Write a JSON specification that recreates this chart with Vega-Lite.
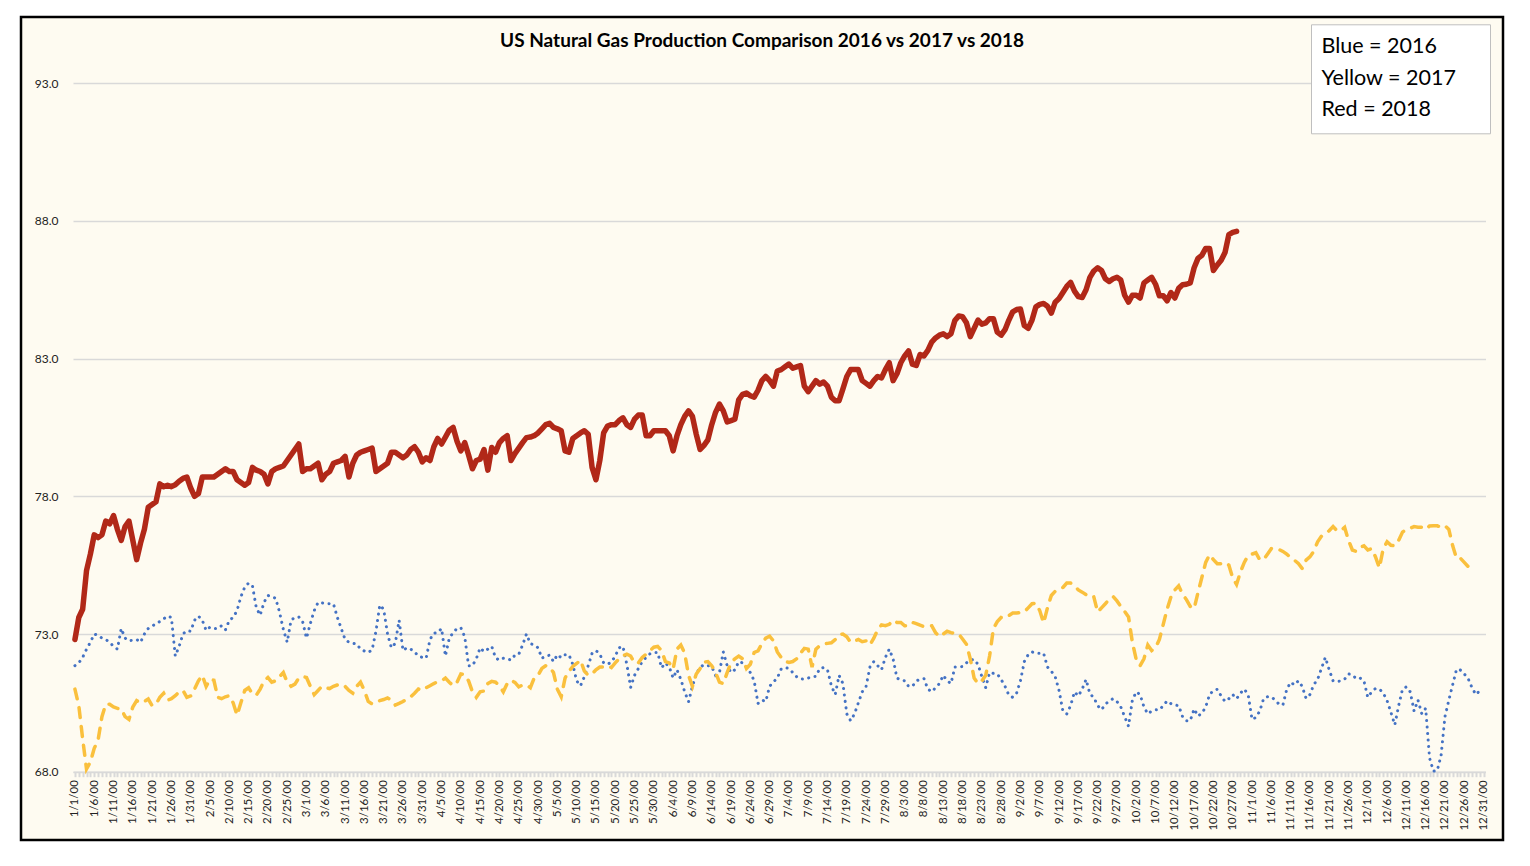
{
"$schema":"https://vega.github.io/schema/vega-lite/v6.json",
"width":1482,"height":823,
"autosize":{"type":"none"},
"padding":{"left":21,"top":17,"right":27,"bottom":26},
"background":"#FFFFFF",
"config":{"view":{"fill":"#FEFBF1","stroke":"#000000","strokeWidth":2.5},"font":"Lato"},
"title":{"text":"US Natural Gas Production Comparison 2016 vs 2017 vs 2018","font":"Lato","fontSize":19,"fontWeight":"bold","color":"#000000","anchor":"middle","frame":"group","baseline":"alphabetic","offset":-49},
"data":{"values":[
{"d":"2000-01-01","b":71.85,"y":71.0,"r":72.8},
{"d":"2000-01-02","b":71.95,"y":70.4,"r":73.6},
{"d":"2000-01-03","b":72.15,"y":69.2,"r":73.9},
{"d":"2000-01-04","b":72.45,"y":68.1,"r":75.3},
{"d":"2000-01-05","b":72.7,"y":68.35,"r":75.9},
{"d":"2000-01-06","b":73.0,"y":68.85,"r":76.6},
{"d":"2000-01-07","b":72.95,"y":69.15,"r":76.5},
{"d":"2000-01-08","b":72.85,"y":70.0,"r":76.6},
{"d":"2000-01-09","b":72.8,"y":70.45,"r":77.1},
{"d":"2000-01-10","b":72.7,"y":70.45,"r":77.0},
{"d":"2000-01-11","b":72.55,"y":70.35,"r":77.3},
{"d":"2000-01-12","b":72.45,"y":70.3,"r":76.8},
{"d":"2000-01-13","b":73.2,"y":70.28,"r":76.4},
{"d":"2000-01-14","b":72.85,"y":70.0,"r":76.9},
{"d":"2000-01-15","b":72.75,"y":69.9,"r":77.1},
{"d":"2000-01-16","b":72.78,"y":70.35,"r":76.4},
{"d":"2000-01-17","b":72.8,"y":70.58,"r":75.7},
{"d":"2000-01-18","b":72.7,"y":70.5,"r":76.3},
{"d":"2000-01-19","b":73.0,"y":70.55,"r":76.8},
{"d":"2000-01-20","b":73.2,"y":70.64,"r":77.6},
{"d":"2000-01-21","b":73.28,"y":70.4,"r":77.7},
{"d":"2000-01-22","b":73.38,"y":70.45,"r":77.8},
{"d":"2000-01-23","b":73.45,"y":70.7,"r":78.45},
{"d":"2000-01-24","b":73.55,"y":70.85,"r":78.35},
{"d":"2000-01-25","b":73.65,"y":70.6,"r":78.4},
{"d":"2000-01-26","b":73.6,"y":70.65,"r":78.35},
{"d":"2000-01-27","b":72.2,"y":70.76,"r":78.42},
{"d":"2000-01-28","b":72.55,"y":70.9,"r":78.55},
{"d":"2000-01-29","b":73.0,"y":70.95,"r":78.65},
{"d":"2000-01-30","b":73.12,"y":70.7,"r":78.7},
{"d":"2000-01-31","b":73.1,"y":70.75,"r":78.3},
{"d":"2000-02-01","b":73.5,"y":71.0,"r":78.0},
{"d":"2000-02-02","b":73.65,"y":71.3,"r":78.1},
{"d":"2000-02-03","b":73.5,"y":71.5,"r":78.7},
{"d":"2000-02-04","b":73.13,"y":71.1,"r":78.7},
{"d":"2000-02-05","b":73.25,"y":71.36,"r":78.7},
{"d":"2000-02-06","b":73.2,"y":71.32,"r":78.7},
{"d":"2000-02-07","b":73.2,"y":70.7,"r":78.8},
{"d":"2000-02-08","b":73.3,"y":70.65,"r":78.9},
{"d":"2000-02-09","b":73.15,"y":70.72,"r":79.0},
{"d":"2000-02-10","b":73.5,"y":70.76,"r":78.9},
{"d":"2000-02-11","b":73.6,"y":70.5,"r":78.9},
{"d":"2000-02-12","b":73.85,"y":70.05,"r":78.6},
{"d":"2000-02-13","b":74.35,"y":70.5,"r":78.5},
{"d":"2000-02-14","b":74.7,"y":70.95,"r":78.4},
{"d":"2000-02-15","b":74.85,"y":71.05,"r":78.5},
{"d":"2000-02-16","b":74.75,"y":70.82,"r":79.05},
{"d":"2000-02-17","b":73.95,"y":70.78,"r":78.95},
{"d":"2000-02-18","b":73.68,"y":71.0,"r":78.9},
{"d":"2000-02-19","b":74.15,"y":71.3,"r":78.8},
{"d":"2000-02-20","b":74.4,"y":71.42,"r":78.45},
{"d":"2000-02-21","b":74.35,"y":71.25,"r":78.9},
{"d":"2000-02-22","b":74.3,"y":71.3,"r":79.0},
{"d":"2000-02-23","b":73.8,"y":71.45,"r":79.05},
{"d":"2000-02-24","b":73.17,"y":71.6,"r":79.1},
{"d":"2000-02-25","b":72.7,"y":71.25,"r":79.3},
{"d":"2000-02-26","b":73.5,"y":71.1,"r":79.5},
{"d":"2000-02-27","b":73.6,"y":71.18,"r":79.7},
{"d":"2000-02-28","b":73.62,"y":71.4,"r":79.9},
{"d":"2000-02-29","b":73.45,"y":71.46,"r":78.9},
{"d":"2000-03-01","b":72.85,"y":71.42,"r":79.0},
{"d":"2000-03-02","b":73.38,"y":71.1,"r":79.0},
{"d":"2000-03-03","b":73.85,"y":70.8,"r":79.1},
{"d":"2000-03-04","b":74.15,"y":70.95,"r":79.2},
{"d":"2000-03-05","b":74.13,"y":71.1,"r":78.6},
{"d":"2000-03-06","b":74.11,"y":71.05,"r":78.8},
{"d":"2000-03-07","b":74.1,"y":71.02,"r":78.9},
{"d":"2000-03-08","b":74.09,"y":71.1,"r":79.2},
{"d":"2000-03-09","b":73.6,"y":71.15,"r":79.25},
{"d":"2000-03-10","b":73.2,"y":71.18,"r":79.3},
{"d":"2000-03-11","b":72.8,"y":71.1,"r":79.45},
{"d":"2000-03-12","b":72.7,"y":70.95,"r":78.7},
{"d":"2000-03-13","b":72.66,"y":70.85,"r":79.2},
{"d":"2000-03-14","b":72.64,"y":71.1,"r":79.5},
{"d":"2000-03-15","b":72.45,"y":71.25,"r":79.6},
{"d":"2000-03-16","b":72.38,"y":70.95,"r":79.65},
{"d":"2000-03-17","b":72.33,"y":70.55,"r":79.7},
{"d":"2000-03-18","b":72.42,"y":70.46,"r":79.75},
{"d":"2000-03-19","b":73.1,"y":70.52,"r":78.9},
{"d":"2000-03-20","b":74.05,"y":70.58,"r":79.0},
{"d":"2000-03-21","b":73.9,"y":70.62,"r":79.1},
{"d":"2000-03-22","b":73.0,"y":70.68,"r":79.2},
{"d":"2000-03-23","b":72.5,"y":70.6,"r":79.6},
{"d":"2000-03-24","b":72.66,"y":70.42,"r":79.6},
{"d":"2000-03-25","b":73.5,"y":70.48,"r":79.5},
{"d":"2000-03-26","b":72.4,"y":70.55,"r":79.4},
{"d":"2000-03-27","b":72.5,"y":70.64,"r":79.5},
{"d":"2000-03-28","b":72.45,"y":70.72,"r":79.7},
{"d":"2000-03-29","b":72.35,"y":70.85,"r":79.8},
{"d":"2000-03-30","b":72.2,"y":71.0,"r":79.6},
{"d":"2000-03-31","b":72.15,"y":70.95,"r":79.25},
{"d":"2000-04-01","b":72.12,"y":71.05,"r":79.4},
{"d":"2000-04-02","b":72.8,"y":71.12,"r":79.3},
{"d":"2000-04-03","b":73.03,"y":71.2,"r":79.8},
{"d":"2000-04-04","b":73.05,"y":71.27,"r":80.1},
{"d":"2000-04-05","b":73.2,"y":71.3,"r":79.9},
{"d":"2000-04-06","b":72.2,"y":71.4,"r":80.15},
{"d":"2000-04-07","b":72.85,"y":71.25,"r":80.4},
{"d":"2000-04-08","b":73.05,"y":71.12,"r":80.5},
{"d":"2000-04-09","b":73.2,"y":71.25,"r":80.0},
{"d":"2000-04-10","b":73.23,"y":71.55,"r":79.65},
{"d":"2000-04-11","b":72.9,"y":71.52,"r":79.95},
{"d":"2000-04-12","b":71.85,"y":71.3,"r":79.5},
{"d":"2000-04-13","b":71.85,"y":70.9,"r":79.0},
{"d":"2000-04-14","b":72.1,"y":70.7,"r":79.3},
{"d":"2000-04-15","b":72.5,"y":70.9,"r":79.35},
{"d":"2000-04-16","b":72.36,"y":70.93,"r":79.7},
{"d":"2000-04-17","b":72.45,"y":71.2,"r":78.95},
{"d":"2000-04-18","b":72.55,"y":71.28,"r":79.77},
{"d":"2000-04-19","b":72.13,"y":71.25,"r":79.6},
{"d":"2000-04-20","b":72.05,"y":71.12,"r":79.95},
{"d":"2000-04-21","b":72.12,"y":70.9,"r":80.1},
{"d":"2000-04-22","b":72.1,"y":71.2,"r":80.2},
{"d":"2000-04-23","b":72.05,"y":71.32,"r":79.3},
{"d":"2000-04-24","b":72.23,"y":71.24,"r":79.55},
{"d":"2000-04-25","b":72.26,"y":71.08,"r":79.75},
{"d":"2000-04-26","b":72.6,"y":71.15,"r":79.95},
{"d":"2000-04-27","b":73.0,"y":71.15,"r":80.13},
{"d":"2000-04-28","b":72.65,"y":71.05,"r":80.15},
{"d":"2000-04-29","b":72.6,"y":71.4,"r":80.2},
{"d":"2000-04-30","b":72.5,"y":71.5,"r":80.3},
{"d":"2000-05-01","b":72.12,"y":71.75,"r":80.45},
{"d":"2000-05-02","b":72.2,"y":71.85,"r":80.6},
{"d":"2000-05-03","b":72.23,"y":71.8,"r":80.65},
{"d":"2000-05-04","b":72.0,"y":71.6,"r":80.5},
{"d":"2000-05-05","b":72.25,"y":71.0,"r":80.45},
{"d":"2000-05-06","b":72.14,"y":70.72,"r":80.38},
{"d":"2000-05-07","b":72.25,"y":71.4,"r":79.65},
{"d":"2000-05-08","b":72.25,"y":71.65,"r":79.6},
{"d":"2000-05-09","b":71.9,"y":71.82,"r":80.1},
{"d":"2000-05-10","b":71.3,"y":71.93,"r":80.2},
{"d":"2000-05-11","b":71.12,"y":72.05,"r":80.3},
{"d":"2000-05-12","b":71.45,"y":71.65,"r":80.38},
{"d":"2000-05-13","b":71.85,"y":71.5,"r":80.25},
{"d":"2000-05-14","b":72.3,"y":71.55,"r":79.05},
{"d":"2000-05-15","b":72.4,"y":71.7,"r":78.6},
{"d":"2000-05-16","b":72.27,"y":71.8,"r":79.3},
{"d":"2000-05-17","b":71.95,"y":71.8,"r":80.3},
{"d":"2000-05-18","b":71.9,"y":71.85,"r":80.55},
{"d":"2000-05-19","b":71.98,"y":71.78,"r":80.6},
{"d":"2000-05-20","b":72.2,"y":71.95,"r":80.6},
{"d":"2000-05-21","b":72.5,"y":72.1,"r":80.75},
{"d":"2000-05-22","b":72.55,"y":72.21,"r":80.85},
{"d":"2000-05-23","b":71.9,"y":72.27,"r":80.6},
{"d":"2000-05-24","b":71.06,"y":72.2,"r":80.5},
{"d":"2000-05-25","b":71.5,"y":71.95,"r":80.8},
{"d":"2000-05-26","b":71.75,"y":71.95,"r":80.95},
{"d":"2000-05-27","b":72.0,"y":72.15,"r":80.95},
{"d":"2000-05-28","b":72.15,"y":72.27,"r":80.2},
{"d":"2000-05-29","b":72.28,"y":72.4,"r":80.2},
{"d":"2000-05-30","b":72.33,"y":72.52,"r":80.38},
{"d":"2000-05-31","b":72.33,"y":72.55,"r":80.38},
{"d":"2000-06-01","b":71.77,"y":72.4,"r":80.38},
{"d":"2000-06-02","b":71.95,"y":72.0,"r":80.38},
{"d":"2000-06-03","b":71.8,"y":71.95,"r":80.2},
{"d":"2000-06-04","b":71.4,"y":71.73,"r":79.65},
{"d":"2000-06-05","b":71.7,"y":72.45,"r":80.2},
{"d":"2000-06-06","b":71.35,"y":72.6,"r":80.6},
{"d":"2000-06-07","b":70.9,"y":72.3,"r":80.9},
{"d":"2000-06-08","b":70.54,"y":71.5,"r":81.1},
{"d":"2000-06-09","b":71.1,"y":71.1,"r":80.9},
{"d":"2000-06-10","b":71.55,"y":71.55,"r":80.25},
{"d":"2000-06-11","b":71.8,"y":71.75,"r":79.7},
{"d":"2000-06-12","b":71.88,"y":71.98,"r":79.85},
{"d":"2000-06-13","b":71.85,"y":72.0,"r":80.05},
{"d":"2000-06-14","b":71.82,"y":71.85,"r":80.6},
{"d":"2000-06-15","b":71.5,"y":71.6,"r":81.05},
{"d":"2000-06-16","b":71.6,"y":71.25,"r":81.35},
{"d":"2000-06-17","b":72.35,"y":71.2,"r":81.1},
{"d":"2000-06-18","b":71.85,"y":71.6,"r":80.7},
{"d":"2000-06-19","b":71.6,"y":71.95,"r":80.75},
{"d":"2000-06-20","b":71.7,"y":72.1,"r":80.8},
{"d":"2000-06-21","b":72.0,"y":72.2,"r":81.5},
{"d":"2000-06-22","b":71.95,"y":72.1,"r":81.7},
{"d":"2000-06-23","b":71.8,"y":71.75,"r":81.75},
{"d":"2000-06-24","b":71.6,"y":71.9,"r":81.65},
{"d":"2000-06-25","b":71.3,"y":72.33,"r":81.6},
{"d":"2000-06-26","b":70.48,"y":72.39,"r":81.85},
{"d":"2000-06-27","b":70.6,"y":72.65,"r":82.2},
{"d":"2000-06-28","b":70.55,"y":72.85,"r":82.35},
{"d":"2000-06-29","b":71.1,"y":72.92,"r":82.2},
{"d":"2000-06-30","b":71.26,"y":72.75,"r":82.0},
{"d":"2000-07-01","b":71.4,"y":72.35,"r":82.55},
{"d":"2000-07-02","b":71.73,"y":72.15,"r":82.6},
{"d":"2000-07-03","b":71.78,"y":72.0,"r":82.7},
{"d":"2000-07-04","b":71.75,"y":71.97,"r":82.8},
{"d":"2000-07-05","b":71.6,"y":72.0,"r":82.65},
{"d":"2000-07-06","b":71.45,"y":72.1,"r":82.7},
{"d":"2000-07-07","b":71.37,"y":72.3,"r":82.75},
{"d":"2000-07-08","b":71.36,"y":72.48,"r":82.0},
{"d":"2000-07-09","b":71.4,"y":72.45,"r":81.8},
{"d":"2000-07-10","b":71.45,"y":71.8,"r":82.0},
{"d":"2000-07-11","b":71.46,"y":72.45,"r":82.2},
{"d":"2000-07-12","b":71.75,"y":72.58,"r":82.07},
{"d":"2000-07-13","b":71.78,"y":72.64,"r":82.15},
{"d":"2000-07-14","b":71.7,"y":72.66,"r":82.0},
{"d":"2000-07-15","b":71.12,"y":72.68,"r":81.6},
{"d":"2000-07-16","b":70.8,"y":72.8,"r":81.47},
{"d":"2000-07-17","b":71.5,"y":72.97,"r":81.47},
{"d":"2000-07-18","b":71.2,"y":73.0,"r":81.9},
{"d":"2000-07-19","b":70.1,"y":72.9,"r":82.35},
{"d":"2000-07-20","b":69.85,"y":72.7,"r":82.6},
{"d":"2000-07-21","b":70.1,"y":72.75,"r":82.6},
{"d":"2000-07-22","b":70.5,"y":72.8,"r":82.6},
{"d":"2000-07-23","b":70.9,"y":72.72,"r":82.2},
{"d":"2000-07-24","b":71.1,"y":72.75,"r":82.1},
{"d":"2000-07-25","b":71.8,"y":72.6,"r":82.0},
{"d":"2000-07-26","b":72.0,"y":72.85,"r":82.2},
{"d":"2000-07-27","b":71.85,"y":73.15,"r":82.35},
{"d":"2000-07-28","b":71.7,"y":73.33,"r":82.3},
{"d":"2000-07-29","b":72.15,"y":73.3,"r":82.6},
{"d":"2000-07-30","b":72.45,"y":73.35,"r":82.85},
{"d":"2000-07-31","b":72.1,"y":73.5,"r":82.2},
{"d":"2000-08-01","b":71.4,"y":73.42,"r":82.45},
{"d":"2000-08-02","b":71.33,"y":73.42,"r":82.85},
{"d":"2000-08-03","b":71.3,"y":73.3,"r":83.1},
{"d":"2000-08-04","b":71.1,"y":73.3,"r":83.28},
{"d":"2000-08-05","b":71.1,"y":73.42,"r":82.8},
{"d":"2000-08-06","b":71.3,"y":73.38,"r":82.75},
{"d":"2000-08-07","b":71.35,"y":73.32,"r":83.15},
{"d":"2000-08-08","b":71.38,"y":73.27,"r":83.1},
{"d":"2000-08-09","b":71.0,"y":73.3,"r":83.3},
{"d":"2000-08-10","b":70.9,"y":73.3,"r":83.6},
{"d":"2000-08-11","b":71.05,"y":73.05,"r":83.75},
{"d":"2000-08-12","b":71.2,"y":72.9,"r":83.85},
{"d":"2000-08-13","b":71.5,"y":73.0,"r":83.9},
{"d":"2000-08-14","b":71.3,"y":73.1,"r":83.8},
{"d":"2000-08-15","b":71.2,"y":73.05,"r":83.9},
{"d":"2000-08-16","b":71.8,"y":73.02,"r":84.38},
{"d":"2000-08-17","b":71.8,"y":73.0,"r":84.55},
{"d":"2000-08-18","b":71.82,"y":72.82,"r":84.52},
{"d":"2000-08-19","b":71.95,"y":72.63,"r":84.3},
{"d":"2000-08-20","b":72.05,"y":72.1,"r":83.8},
{"d":"2000-08-21","b":72.08,"y":71.4,"r":84.1},
{"d":"2000-08-22","b":71.9,"y":71.2,"r":84.4},
{"d":"2000-08-23","b":71.45,"y":71.3,"r":84.25},
{"d":"2000-08-24","b":71.05,"y":71.5,"r":84.3},
{"d":"2000-08-25","b":71.6,"y":72.2,"r":84.45},
{"d":"2000-08-26","b":71.57,"y":73.2,"r":84.45},
{"d":"2000-08-27","b":71.55,"y":73.45,"r":83.96},
{"d":"2000-08-28","b":71.35,"y":73.6,"r":83.85},
{"d":"2000-08-29","b":71.1,"y":73.58,"r":84.05},
{"d":"2000-08-30","b":70.78,"y":73.67,"r":84.4},
{"d":"2000-08-31","b":70.7,"y":73.76,"r":84.7},
{"d":"2000-09-01","b":70.85,"y":73.76,"r":84.78},
{"d":"2000-09-02","b":71.3,"y":73.78,"r":84.8},
{"d":"2000-09-03","b":72.0,"y":73.8,"r":84.2},
{"d":"2000-09-04","b":72.25,"y":73.95,"r":84.1},
{"d":"2000-09-05","b":72.35,"y":74.1,"r":84.4},
{"d":"2000-09-06","b":72.3,"y":74.12,"r":84.88},
{"d":"2000-09-07","b":72.3,"y":73.85,"r":84.97},
{"d":"2000-09-08","b":72.3,"y":73.4,"r":85.0},
{"d":"2000-09-09","b":71.8,"y":73.95,"r":84.9},
{"d":"2000-09-10","b":71.65,"y":74.4,"r":84.65},
{"d":"2000-09-11","b":71.45,"y":74.55,"r":85.05},
{"d":"2000-09-12","b":70.95,"y":74.63,"r":85.18},
{"d":"2000-09-13","b":70.2,"y":74.69,"r":85.4},
{"d":"2000-09-14","b":70.1,"y":74.85,"r":85.62},
{"d":"2000-09-15","b":70.4,"y":74.85,"r":85.77},
{"d":"2000-09-16","b":70.9,"y":74.75,"r":85.45},
{"d":"2000-09-17","b":70.75,"y":74.6,"r":85.25},
{"d":"2000-09-18","b":71.0,"y":74.52,"r":85.22},
{"d":"2000-09-19","b":71.35,"y":74.43,"r":85.5},
{"d":"2000-09-20","b":70.82,"y":74.45,"r":85.95},
{"d":"2000-09-21","b":70.7,"y":74.35,"r":86.18},
{"d":"2000-09-22","b":70.4,"y":73.8,"r":86.3},
{"d":"2000-09-23","b":70.25,"y":73.95,"r":86.2},
{"d":"2000-09-24","b":70.45,"y":74.1,"r":85.9},
{"d":"2000-09-25","b":70.57,"y":74.26,"r":85.8},
{"d":"2000-09-26","b":70.65,"y":74.36,"r":85.9},
{"d":"2000-09-27","b":70.55,"y":74.2,"r":85.95},
{"d":"2000-09-28","b":70.35,"y":74.0,"r":85.85},
{"d":"2000-09-29","b":70.0,"y":73.82,"r":85.3},
{"d":"2000-09-30","b":69.65,"y":73.62,"r":85.05},
{"d":"2000-10-01","b":70.6,"y":72.7,"r":85.3},
{"d":"2000-10-02","b":70.9,"y":72.07,"r":85.3},
{"d":"2000-10-03","b":70.8,"y":71.85,"r":85.2},
{"d":"2000-10-04","b":70.35,"y":72.1,"r":85.75},
{"d":"2000-10-05","b":70.1,"y":72.6,"r":85.85},
{"d":"2000-10-06","b":70.2,"y":72.4,"r":85.95},
{"d":"2000-10-07","b":70.25,"y":72.5,"r":85.7},
{"d":"2000-10-08","b":70.24,"y":72.8,"r":85.28},
{"d":"2000-10-09","b":70.4,"y":73.35,"r":85.28},
{"d":"2000-10-10","b":70.57,"y":73.9,"r":85.1},
{"d":"2000-10-11","b":70.47,"y":74.35,"r":85.4},
{"d":"2000-10-12","b":70.42,"y":74.6,"r":85.2},
{"d":"2000-10-13","b":70.4,"y":74.75,"r":85.55},
{"d":"2000-10-14","b":70.0,"y":74.45,"r":85.68},
{"d":"2000-10-15","b":69.85,"y":74.25,"r":85.7},
{"d":"2000-10-16","b":69.85,"y":74.0,"r":85.75},
{"d":"2000-10-17","b":70.28,"y":73.92,"r":86.3},
{"d":"2000-10-18","b":70.02,"y":74.5,"r":86.64},
{"d":"2000-10-19","b":70.12,"y":75.05,"r":86.75},
{"d":"2000-10-20","b":70.35,"y":75.6,"r":87.0},
{"d":"2000-10-21","b":70.8,"y":75.88,"r":87.0},
{"d":"2000-10-22","b":70.95,"y":75.7,"r":86.2},
{"d":"2000-10-23","b":70.99,"y":75.55,"r":86.4},
{"d":"2000-10-24","b":70.75,"y":75.55,"r":86.57},
{"d":"2000-10-25","b":70.55,"y":75.6,"r":86.85},
{"d":"2000-10-26","b":70.65,"y":75.5,"r":87.5},
{"d":"2000-10-27","b":70.8,"y":75.04,"r":87.58},
{"d":"2000-10-28","b":70.65,"y":74.8,"r":87.62},
{"d":"2000-10-29","b":70.85,"y":75.25},
{"d":"2000-10-30","b":71.0,"y":75.6},
{"d":"2000-10-31","b":70.8,"y":75.85},
{"d":"2000-11-01","b":69.9,"y":75.9},
{"d":"2000-11-02","b":69.97,"y":75.95},
{"d":"2000-11-03","b":70.2,"y":75.7},
{"d":"2000-11-04","b":70.65,"y":75.7},
{"d":"2000-11-05","b":70.72,"y":75.9},
{"d":"2000-11-06","b":70.72,"y":76.1},
{"d":"2000-11-07","b":70.6,"y":76.12},
{"d":"2000-11-08","b":70.45,"y":76.07},
{"d":"2000-11-09","b":70.42,"y":76.0},
{"d":"2000-11-10","b":70.99,"y":75.9},
{"d":"2000-11-11","b":71.25,"y":75.78},
{"d":"2000-11-12","b":71.15,"y":75.68},
{"d":"2000-11-13","b":71.3,"y":75.56},
{"d":"2000-11-14","b":71.1,"y":75.38},
{"d":"2000-11-15","b":70.66,"y":75.68},
{"d":"2000-11-16","b":70.8,"y":75.8},
{"d":"2000-11-17","b":71.16,"y":76.0},
{"d":"2000-11-18","b":71.35,"y":76.35},
{"d":"2000-11-19","b":71.75,"y":76.55},
{"d":"2000-11-20","b":72.15,"y":76.65},
{"d":"2000-11-21","b":71.7,"y":76.75},
{"d":"2000-11-22","b":71.3,"y":76.9},
{"d":"2000-11-23","b":71.27,"y":76.75},
{"d":"2000-11-24","b":71.3,"y":76.75},
{"d":"2000-11-25","b":71.36,"y":76.87},
{"d":"2000-11-26","b":71.55,"y":76.4},
{"d":"2000-11-27","b":71.52,"y":76.05},
{"d":"2000-11-28","b":71.38,"y":76.0},
{"d":"2000-11-29","b":71.4,"y":76.15},
{"d":"2000-11-30","b":71.3,"y":76.2},
{"d":"2000-12-01","b":70.7,"y":76.05},
{"d":"2000-12-02","b":70.9,"y":76.1},
{"d":"2000-12-03","b":71.02,"y":75.8},
{"d":"2000-12-04","b":71.0,"y":75.4},
{"d":"2000-12-05","b":70.86,"y":76.1},
{"d":"2000-12-06","b":70.58,"y":76.35},
{"d":"2000-12-07","b":70.15,"y":76.22},
{"d":"2000-12-08","b":69.7,"y":76.2},
{"d":"2000-12-09","b":70.4,"y":76.4},
{"d":"2000-12-10","b":71.0,"y":76.7},
{"d":"2000-12-11","b":71.08,"y":76.8},
{"d":"2000-12-12","b":70.9,"y":76.84},
{"d":"2000-12-13","b":70.2,"y":76.9},
{"d":"2000-12-14","b":70.6,"y":76.88},
{"d":"2000-12-15","b":70.1,"y":76.88},
{"d":"2000-12-16","b":70.3,"y":76.8},
{"d":"2000-12-17","b":68.5,"y":76.92},
{"d":"2000-12-18","b":68.02,"y":76.93},
{"d":"2000-12-19","b":68.04,"y":76.93},
{"d":"2000-12-20","b":68.6,"y":76.87},
{"d":"2000-12-21","b":70.0,"y":76.93},
{"d":"2000-12-22","b":70.6,"y":76.8},
{"d":"2000-12-23","b":71.16,"y":76.2},
{"d":"2000-12-24","b":71.72,"y":75.75},
{"d":"2000-12-25","b":71.69,"y":75.75},
{"d":"2000-12-26","b":71.55,"y":75.6},
{"d":"2000-12-27","b":71.38,"y":75.45},
{"d":"2000-12-28","b":71.05},
{"d":"2000-12-29","b":70.8},
{"d":"2000-12-30","b":70.94},
{"d":"2000-12-31","b":70.95}
]},
"encoding":{
"x":{"field":"d","type":"temporal",
"scale":{"type":"utc","domain":[{"year":1999,"month":12,"date":31,"hours":12,"utc":true},{"year":2000,"month":12,"date":31,"hours":12,"utc":true}],"range":[52,1464.5],"nice":false},
"axis":{"title":null,"offset":-68.3,"grid":false,"tickCount":{"interval":"day","step":1},
"labelExpr":"(utcdayofyear(datum.value) - 1) % 5 == 0 ? utcFormat(datum.value, '%-m/%-d/00') : ''",
"labelAngle":-90,"labelOverlap":false,"labelFlush":false,"labelFont":"Lato","labelFontSize":11.5,"labelColor":"#222222","labelPadding":3,
"tickSize":5,"tickWidth":2,"tickColor":"#D9D9D9","domainColor":"#D9D9D9","domainWidth":1.5}}
},
"layer":[
{"mark":{"type":"line","strokeWidth":3,"strokeDash":[0.1,6.4],"strokeCap":"round"},
"encoding":{
"y":{"field":"b","type":"quantitative","scale":{"domain":[68,93],"range":[754.7,66.2],"nice":false,"zero":false},
"axis":{"title":null,"values":[68,73,78,83,88,93],"format":".1f","domain":false,"ticks":false,"labelPadding":15,"offset":-52,"grid":true,"gridColor":"#D9D9D9","gridWidth":1.5,"labelFont":"Lato","labelFontSize":12,"labelColor":"#222222"}},
"color":{"datum":"Blue = 2016","scale":{"domain":["Blue = 2016","Yellow = 2017","Red = 2018"],"range":["#4472C4","#FAC03D","#B12818"]},
"legend":{"title":".","titleOrient":"right","titleColor":"#FFFFFF","titleFontSize":16,"titlePadding":18,"orient":"none","legendX":1290,"legendY":7.3,"fillColor":"#FFFFFF","strokeColor":"#BFBFBF","padding":12,"labelFont":"Lato","labelFontSize":21.5,"labelColor":"#000000","symbolSize":0,"symbolStrokeWidth":0,"symbolOpacity":0,"labelOffset":-23,"rowPadding":8.5,"labelLimit":400}}}},
{"mark":{"type":"line","strokeWidth":3.5,"strokeDash":[10,9],"strokeCap":"round"},
"encoding":{"y":{"field":"y","type":"quantitative"},"color":{"datum":"Yellow = 2017"}}},
{"mark":{"type":"line","strokeWidth":5.5,"strokeJoin":"round","strokeCap":"round"},
"encoding":{"y":{"field":"r","type":"quantitative"},"color":{"datum":"Red = 2018"}}}
]
}
